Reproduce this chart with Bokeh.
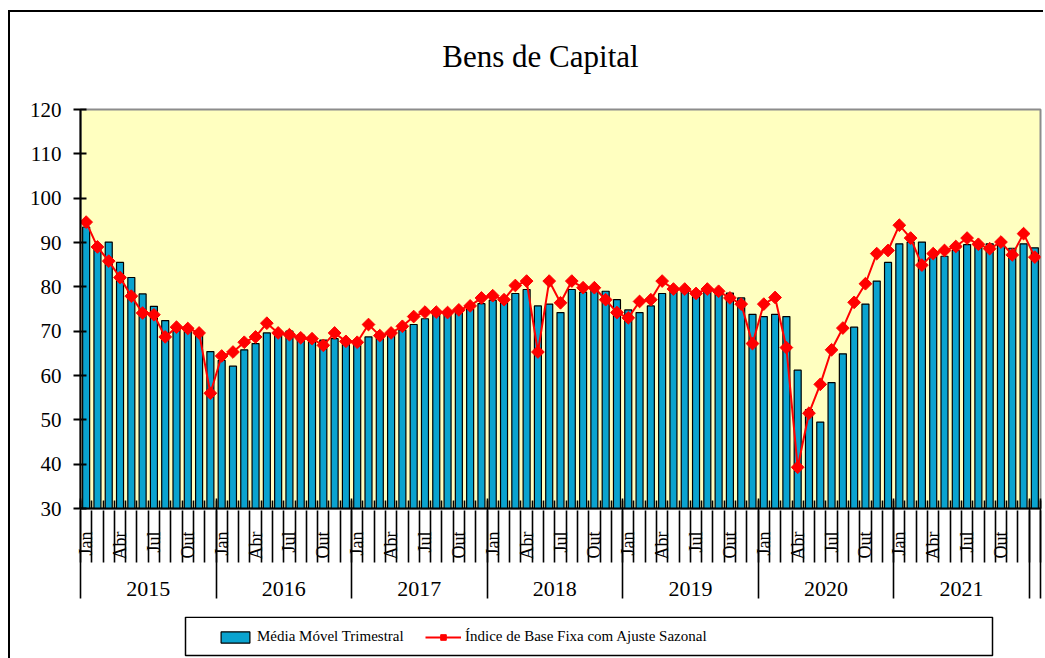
import math
from bokeh.plotting import figure
from bokeh.layouts import column
from bokeh.models import (ColumnDataSource, FixedTicker, Legend, LegendItem, Range1d,
                          LinearAxis, InlineStyleSheet, Label)
from bokeh.embed import file_html
from bokeh.resources import INLINE

# ---------------- data ----------------
title_text = "Bens de Capital"
years = ["2015", "2016", "2017", "2018", "2019", "2020", "2021"]
month_names = ["Jan", "Abr", "Jul", "Out"]
bar_name = "Média Móvel Trimestral"
line_name = "Índice de Base Fixa com Ajuste Sazonal"
y_ticks = [30, 40, 50, 60, 70, 80, 90, 100, 110, 120]

media_movel = [
    93.5, 89.5, 90.1, 85.5, 82.1, 78.4, 75.6, 72.4, 70.9, 70.2, 70.0, 65.4,   # 2015
    63.4, 62.1, 65.8, 67.2, 69.6, 70.0, 70.0, 69.1, 68.7, 68.0, 68.3, 68.0,   # 2016
    68.0, 68.7, 69.3, 69.9, 70.3, 71.5, 72.8, 74.0, 74.2, 74.5, 75.0, 76.2,   # 2017
    77.0, 77.4, 78.5, 79.4, 75.7, 76.1, 74.2, 79.4, 78.8, 79.8, 79.0, 77.1,   # 2018
    74.8, 74.2, 75.7, 78.5, 79.2, 79.8, 79.0, 79.2, 79.0, 78.6, 77.5, 73.8,   # 2019
    73.3, 73.8, 73.3, 61.2, 52.3, 49.5, 58.4, 64.9, 70.9, 76.1, 81.3, 85.5,   # 2020
    89.7, 90.1, 90.1, 87.7, 86.9, 88.2, 89.5, 89.9, 89.7, 89.4, 88.7, 89.7,   # 2021
    88.8,                                                                     # 2022
]

indice = [
    94.6, 89.0, 85.8, 82.1, 77.9, 74.1, 73.7, 68.7, 70.9, 70.6, 69.6, 56.0,   # 2015
    64.4, 65.3, 67.5, 68.7, 71.8, 69.6, 69.2, 68.5, 68.3, 66.8, 69.6, 67.7,   # 2016
    67.5, 71.5, 69.0, 69.6, 71.1, 73.3, 74.3, 74.3, 74.2, 74.8, 75.7, 77.5,   # 2017
    78.0, 77.1, 80.3, 81.3, 65.3, 81.3, 76.4, 81.3, 79.8, 79.8, 77.1, 74.2,   # 2018
    73.0, 76.7, 77.1, 81.3, 79.5, 79.5, 78.5, 79.5, 79.0, 77.5, 76.1, 67.2,   # 2019
    76.1, 77.6, 66.3, 39.3, 51.5, 58.0, 65.8, 70.7, 76.5, 80.7, 87.5, 88.2,   # 2020
    93.9, 91.0, 84.9, 87.5, 88.2, 89.1, 91.0, 89.6, 88.6, 90.1, 87.2, 92.0,   # 2021
    86.7,                                                                     # 2022
]

n = len(indice)
xc = [i + 0.5 for i in range(n)]
src = ColumnDataSource(dict(x=xc, bar=media_movel, idx=indice))

FONT = "Liberation Serif"
W = 1043
FRAME_L, FRAME_R = 80, 1040
BAR_FILL = "#0AA3CF"
RED = "#FF0000"


def edge_css(top):
    top_rule = "border-top: 2px solid black;" if top else ""
    return InlineStyleSheet(css=f"""
:host {{ position: relative; }}
:host::after {{
  content: ""; position: absolute; left: 8px; top: {top or 0}px; right: 0px; bottom: 0px;
  border-left: 2px solid black; {top_rule}
  pointer-events: none; z-index: 5;
}}
""")


def blank_fig(h, top):
    # strip whose frame is aligned with the chart frame; x data units = page pixels
    f = figure(width=W, height=h, output_backend="svg", toolbar_location=None,
               x_range=Range1d(FRAME_L, FRAME_R), y_range=Range1d(0, h),
               x_axis_location=None, y_axis_location=None, min_border=0,
               stylesheets=[edge_css(top)])
    f.outline_line_color = None
    f.xgrid.visible = False
    f.ygrid.visible = False
    f.background_fill_color = "white"
    f.border_fill_color = "white"
    return f


# ---------------- title strip ----------------
TITLE_H = 97
tf = blank_fig(TITLE_H, 10)
tf.add_layout(Label(x=540, y=41, text=title_text, text_align="center",
                    text_baseline="alphabetic", text_font=FONT,
                    text_font_size="31px", text_color="black"))

# ---------------- main chart ----------------
p = figure(frame_width=FRAME_R - FRAME_L, frame_height=399, output_backend="svg",
           toolbar_location=None,
           x_range=Range1d(0, n), y_range=Range1d(y_ticks[0], y_ticks[-1]),
           x_axis_location=None,
           min_border_left=FRAME_L, min_border_right=W - FRAME_R, min_border_top=12,
           min_border_bottom=108, stylesheets=[edge_css(0)])
p.background_fill_color = "#FFFFC0"
p.border_fill_color = "white"
p.outline_line_color = "#8C8C8C"
p.outline_line_width = 2
p.xgrid.visible = False
p.ygrid.visible = False

bars = p.vbar(x="x", top="bar", bottom=0, width=0.62, source=src,
              fill_color=BAR_FILL, line_color="black", line_width=1.2)
line_r = p.line(x="x", y="idx", source=src, line_color=RED, line_width=2)
pts = p.scatter(x="x", y="idx", source=src, marker="square", angle=math.pi / 4,
                size=9, fill_color=RED, line_color=RED)

# y axis
p.yaxis.ticker = FixedTicker(ticks=y_ticks)
p.yaxis.major_tick_in = 6
p.yaxis.major_tick_out = 7
p.yaxis.minor_tick_line_color = None
p.yaxis.axis_line_width = 2
p.yaxis.major_tick_line_width = 2
p.yaxis.axis_line_color = "black"
p.yaxis.major_label_standoff = 12
p.yaxis.major_label_text_font = FONT
p.yaxis.major_label_text_font_size = "21px"
p.yaxis.major_label_text_color = "black"

month_bounds = list(range(n + 1))
year_bounds = [12 * k for k in range(len(years) + 1)] + [n]

# level 1: month names (rotated), short inner ticks at each month boundary
month_pos, month_lab = [], {}
for k in range(len(years)):
    for q, m in enumerate(month_names):
        pos = 12 * k + 3 * q + 0.5
        month_pos.append(pos)
        month_lab[pos] = m
month_axis = LinearAxis(ticker=FixedTicker(ticks=month_pos, minor_ticks=month_bounds),
                        major_label_overrides=month_lab,
                        major_label_orientation=math.pi / 2,
                        major_label_standoff=23,
                        major_label_text_font=FONT, major_label_text_font_size="18px",
                        major_label_text_color="black",
                        major_tick_in=0, major_tick_out=0,
                        minor_tick_in=8, minor_tick_out=0,
                        minor_tick_line_width=1.6, minor_tick_line_color="black",
                        axis_line_width=2, axis_line_color="black")
p.add_layout(month_axis, "below")

# level 2: year names; its inner ticks draw the month separators
year_pos, year_lab = [], {}
for k, yname in enumerate(years):
    pos = 12 * k + 6
    year_pos.append(pos)
    year_lab[pos] = yname
year_axis = LinearAxis(ticker=FixedTicker(ticks=year_pos, minor_ticks=month_bounds),
                       major_label_overrides=year_lab,
                       major_label_standoff=19,
                       major_label_text_font=FONT, major_label_text_font_size="22px",
                       major_label_text_color="black",
                       major_tick_in=0, major_tick_out=0,
                       minor_tick_in=52, minor_tick_out=0,
                       minor_tick_line_width=1.6, minor_tick_line_color="black",
                       axis_line_color=None)
p.add_layout(year_axis, "below")

# level 3: long year separators (inner ticks reaching up to the plot)
sep_axis = LinearAxis(ticker=FixedTicker(ticks=year_bounds, minor_ticks=[]),
                      major_label_overrides={b: "" for b in year_bounds},
                      major_label_standoff=0, major_label_text_font_size="1px",
                      major_label_text_color=None,
                      major_tick_in=100, major_tick_out=0,
                      major_tick_line_width=1.6, major_tick_line_color="black",
                      minor_tick_line_color=None, axis_line_color=None)
p.add_layout(sep_axis, "below")

# ---------------- legend strip ----------------
LEG_H = 42
lf = blank_fig(LEG_H, None)
lf.quad(left=185, right=992, bottom=3, top=LEG_H - 0.8, fill_color="white",
        line_color="black", line_width=1.5)
# swatch renderers (one point each, kept outside the visible strip)
off = [FRAME_L - 500]
sw_bar = lf.vbar(x=off, top=off, width=1, fill_color=BAR_FILL, line_color="black",
                 line_width=1.2)
sw_line = lf.line(x=off, y=off, line_color=RED, line_width=2)
sw_pts = lf.scatter(x=off, y=off, marker="square", angle=math.pi / 4, size=6,
                    fill_color=RED, line_color=RED)
legend = Legend(items=[LegendItem(label=bar_name, renderers=[sw_bar]),
                       LegendItem(label=line_name, renderers=[sw_line, sw_pts])],
                location=(217 - FRAME_L, 13), orientation="horizontal",
                padding=10, margin=0, spacing=18, label_width=150,
                glyph_width=36, glyph_height=14, label_standoff=4,
                label_text_font=FONT, label_text_font_size="15px",
                label_text_color="black",
                background_fill_alpha=0, border_line_color=None)
lf.add_layout(legend)

layout = column(tf, p, lf, spacing=0)
open("out.html", "w").write(file_html(layout, INLINE))
